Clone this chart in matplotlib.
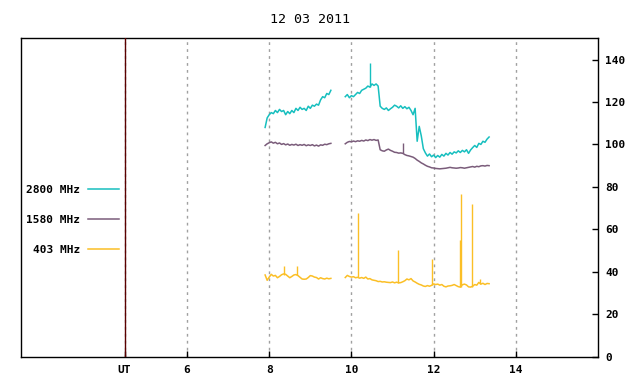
import numpy as np
import matplotlib
matplotlib.use("Agg")
import matplotlib.pyplot as plt

# sample times (UT hours), two recording segments
t_seg1 = [7.90, 7.95, 8.00, 8.05, 8.10, 8.15, 8.20, 8.25, 8.30, 8.35, 8.40,
          8.45, 8.50, 8.55, 8.60, 8.65, 8.70, 8.75, 8.80, 8.85, 8.90, 8.95,
          9.00, 9.05, 9.10, 9.15, 9.20, 9.25, 9.30, 9.35, 9.40, 9.45, 9.50]
t_seg2 = [9.85, 9.90, 9.95, 10.00, 10.05, 10.10, 10.15, 10.20, 10.25, 10.30,
          10.35, 10.40, 10.45, 10.50, 10.55, 10.60, 10.65, 10.70, 10.75, 10.80,
          10.85, 10.90, 10.95, 11.00, 11.05, 11.10, 11.15, 11.20, 11.25, 11.30,
          11.35, 11.40, 11.45, 11.50, 11.55, 11.60, 11.65, 11.70, 11.75, 11.80,
          11.85, 11.90, 11.95, 12.00, 12.05, 12.10, 12.15, 12.20, 12.25, 12.30,
          12.35, 12.40, 12.45, 12.50, 12.55, 12.60, 12.65, 12.70, 12.75, 12.80,
          12.85, 12.90, 12.95, 13.00, 13.05, 13.10, 13.15, 13.20, 13.25, 13.30,
          13.35]

f2800_seg1 = [108, 112.5, 114, 115, 114.5, 116, 115, 116.5, 115.5, 116, 114,
              115.5, 114.5, 116, 115, 117, 116, 117.5, 116.5, 117, 116, 118,
              117, 118.5, 118, 119, 118.5, 121, 122.5, 122, 124, 123.5, 125.5]
f2800_seg2 = [122.5, 123.5, 122, 123, 122.5, 123.5, 124.5, 124, 125.5, 126,
              126.5, 127.5, 127, 128.5, 127.8, 128.5, 127.5, 118, 117, 116.5,
              117.2, 116, 116.8, 117.5, 118.5, 118, 117.2, 118.2, 117, 117.8,
              116.8, 117.5, 116, 114, 117, 101.5, 108.5, 104, 98, 96,
              94.5, 95.5, 94.2, 95, 93.8, 94.8, 94, 95.3, 94.5, 95.8,
              95, 96.2, 95.4, 96.5, 96, 97, 96.2, 97.2, 96.5, 97.5,
              95.8, 97.4, 98.5, 99.5, 98.6, 100.5, 100, 101.5, 101, 102.5,
              103.5]

f1580_seg1 = [99.5, 100.3, 100.8, 101.2, 100.6, 101, 100.3, 100.7, 100, 100.4,
              99.8, 100.2, 99.6, 100, 99.7, 100.1, 99.5, 99.9, 99.6, 100, 99.4,
              99.8, 99.5, 99.9, 99.3, 99.7, 99.2, 99.8, 99.6, 100.1, 99.9,
              100.3, 100.5]
f1580_seg2 = [100.3, 101, 101.4, 101.2, 101.6, 101.3, 101.7, 101.5, 101.9,
              101.6, 102.1, 101.8, 102.3, 102, 102.3, 101.9, 102.1, 97.5, 97,
              96.8, 97.4, 97.8, 97.2, 96.8, 96.3, 96.2, 95.9, 96, 95.8, 95.2,
              94.8, 94.6, 94.3, 94, 93.4, 92.6, 92, 91.3, 90.8, 90.2, 89.7,
              89.4, 89, 88.9, 88.7, 88.6, 88.5, 88.6, 88.7, 88.8, 89, 89.2,
              89, 88.9, 88.8, 88.9, 89.1, 89, 88.8, 89, 89.2, 89.4, 89.6,
              89.3, 89.7, 89.5, 89.9, 90, 89.8, 90.1, 90]

f403_seg1 = [38.5, 36, 37.5, 38.8, 38, 38.3, 37.2, 37.8, 38.6, 39, 38.8, 38,
             37.2, 37.8, 38.5, 38.7, 38.2, 37.4, 36.6, 36.5, 36.6, 37.3, 38.2,
             38, 37.5, 37.3, 36.6, 37.2, 36.8, 36.6, 37, 36.7, 36.9]
f403_seg2 = [37.3, 38.3, 37.8, 37.5, 37.7, 37.2, 37.4, 37, 37.3, 36.9, 37.5,
             36.6, 36.8, 36.2, 36, 35.8, 35.4, 35.5, 35.2, 35.3, 35.1, 35,
             34.9, 35.2, 34.8, 35.1, 34.8, 34.9, 35.3, 35.8, 36.6, 36.2, 36.8,
             35.7, 35.2, 34.6, 34.1, 33.8, 33.3, 33.1, 33.5, 33.2, 33.6, 34.3,
             34, 34.2, 33.7, 34, 33.2, 32.9, 33.3, 33.4, 33.6, 34, 33.5, 33,
             32.8, 33.9, 34.2, 33.8, 32.9, 32.8, 33.2, 34, 33.7, 35, 34.2,
             34.6, 34, 34.5, 34.4]

# short bursts (time, base, peak)
spk2800_t, spk2800_lo, spk2800_hi = [10.44], [127], [138.4]
spk1580_t, spk1580_lo, spk1580_hi = [11.25], [95.8], [100.6]
spk403_t = [8.37, 8.67, 10.17, 11.14, 11.97, 12.64, 12.67, 12.94, 13.14]
spk403_lo = [38.6, 38.6, 37.4, 34.9, 33.6, 33.0, 33.0, 33.0, 34.2]
spk403_hi = [42.6, 42.9, 67.5, 50.1, 45.9, 54.9, 76.6, 71.9, 36.8]

series = [
    ("2800 MHz", "#17bfbf", f2800_seg1, f2800_seg2, spk2800_t, spk2800_lo, spk2800_hi),
    ("1580 MHz", "#7a5c7a", f1580_seg1, f1580_seg2, spk1580_t, spk1580_lo, spk1580_hi),
    ("403 MHz", "#fbbf26", f403_seg1, f403_seg2, spk403_t, spk403_lo, spk403_hi),
]

plt.rcParams['font.family'] = ['DejaVu Sans Mono']
plt.rcParams['font.weight'] = 'bold'
plt.rcParams['font.size'] = 8

fig = plt.figure(figsize=(6.4, 3.84), dpi=100)
ax = fig.add_axes([21 / 640, 1 - 356.7 / 384, 577 / 640, 318.4 / 384])

t_all = t_seg1 + [np.nan] + t_seg2
for name, col, s1, s2, st, slo, shi in series:
    ax.plot(t_all, s1 + [np.nan] + s2, color=col, lw=1.1, label=name, zorder=3)
    ax.vlines(st, slo, shi, color=col, lw=1, zorder=3)

ax.set_xlim(1.96, 16)
ax.set_ylim(0, 150)

ax.set_xticks([4.48, 6, 8, 10, 12, 14])
ax.set_xticklabels(["UT", "6", "8", "10", "12", "14"])
ax.set_yticks(range(0, 141, 20))
ax.yaxis.tick_right()
ax.tick_params(axis='both', direction='in', length=4, width=1, colors='black')
ax.tick_params(axis='x', pad=6)
ax.tick_params(axis='y', pad=5)

ax.grid(axis='x', color='#a0a0a0', linestyle=(0, (2, 3)), lw=1)
ax.axvline(4.48, color='#5a0000', lw=1, zorder=4)

for sp in ax.spines.values():
    sp.set_linewidth(1)

ax.set_title("12 03 2011", pad=11)

ax.legend(loc='center right', bbox_to_anchor=(0.17, 0.43), markerfirst=False,
          frameon=False, handlelength=2.8, handletextpad=0.7, labelspacing=1.8,
          borderpad=0, borderaxespad=0)

fig.savefig("out.png", dpi=100)
